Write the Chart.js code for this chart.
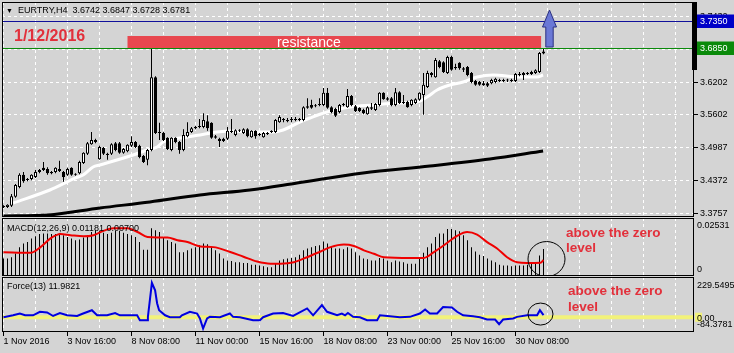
<!DOCTYPE html>
<html><head><meta charset="utf-8">
<script src="https://cdn.jsdelivr.net/npm/chart.js@4/dist/chart.umd.min.js"></script>
<style>
html,body{margin:0;padding:0;background:#d4d4d4;}
#wrap{position:relative;width:734px;height:353px;overflow:hidden;background:#d4d4d4;font-family:"Liberation Sans",Arial,sans-serif;color:#000;}
canvas{position:absolute;left:0;}
.t{position:absolute;white-space:pre;line-height:1;}
.note{position:absolute;white-space:nowrap;font-weight:bold;font-size:13.5px;color:#e2303b;}
</style></head><body>
<div id="wrap">
<canvas id="cMain" width="734" height="218" style="top:0px"></canvas>
<canvas id="cMacd" width="734" height="58" style="top:218px"></canvas>
<canvas id="cForce" width="734" height="76" style="top:277px"></canvas>
<div class="t" style="left:6px;top:7px;font-size:7px;">▼</div>
<div class="t" style="left:18px;top:6px;font-size:9px;">EURTRY,H4  3.6742 3.6847 3.6728 3.6781</div>
<div class="t" style="left:14px;top:28px;font-size:16px;font-weight:bold;color:#e2303b;">1/12/2016</div>
<div class="t" style="left:277px;top:35px;font-size:14px;color:#ffffff;">resistance</div>
<div class="t" style="left:7px;top:224px;font-size:9px;">MACD(12,26,9) 0.01181 0.00700</div>
<div class="t" style="left:7px;top:282px;font-size:9px;">Force(13) 11.9821</div>
<div class="note" style="left:566px;top:225px;line-height:15px;">above the zero<br>level</div>
<div class="note" style="left:568px;top:283px;line-height:16px;">above the zero<br>level</div>
</div>
<script>
// ---------------- data ----------------
const openPrices = [3.389,3.388,3.390,3.407,3.425,3.448,3.438,3.440,3.444,3.453,3.461,3.459,3.453,3.453,3.459,3.453,3.448,3.461,3.449,3.451,
3.470,3.487,3.505,3.513,3.477,3.498,3.487,3.487,3.507,3.507,3.489,3.492,3.502,3.509,3.502,3.483,3.476,3.494,3.630,3.528,
3.526,3.517,3.494,3.517,3.509,3.494,3.520,3.528,3.535,3.537,3.537,3.548,3.545,3.517,3.515,3.515,3.515,3.530,3.522,3.530,
3.526,3.533,3.518,3.530,3.524,3.518,3.526,3.528,3.528,3.546,3.550,3.550,3.552,3.552,3.550,3.550,3.576,3.578,3.576,3.580,
3.578,3.601,3.574,3.571,3.565,3.578,3.574,3.595,3.576,3.573,3.569,3.561,3.574,3.569,3.578,3.601,3.591,3.591,3.578,3.602,
3.584,3.584,3.578,3.582,3.588,3.597,3.612,3.634,3.630,3.660,3.658,3.638,3.668,3.649,3.657,3.647,3.649,3.638,3.623,3.621,
3.619,3.619,3.619,3.621,3.623,3.625,3.625,3.623,3.623,3.636,3.638,3.636,3.636,3.638,3.640,3.6742];
const highPrices = [3.391,3.393,3.412,3.431,3.451,3.453,3.442,3.449,3.457,3.459,3.472,3.462,3.455,3.462,3.474,3.455,3.461,3.462,3.451,3.474,
3.490,3.509,3.528,3.515,3.502,3.500,3.489,3.507,3.509,3.509,3.498,3.505,3.520,3.511,3.504,3.485,3.496,3.685,3.632,3.545,
3.528,3.518,3.518,3.518,3.511,3.533,3.546,3.537,3.539,3.552,3.563,3.559,3.546,3.522,3.517,3.517,3.537,3.552,3.533,3.533,
3.535,3.535,3.531,3.531,3.526,3.528,3.528,3.531,3.552,3.559,3.554,3.554,3.556,3.556,3.554,3.576,3.591,3.588,3.580,3.591,
3.610,3.610,3.576,3.573,3.580,3.582,3.608,3.597,3.578,3.574,3.571,3.576,3.582,3.582,3.602,3.602,3.593,3.593,3.610,3.604,
3.597,3.586,3.589,3.591,3.602,3.638,3.642,3.640,3.666,3.662,3.660,3.670,3.670,3.655,3.658,3.649,3.651,3.640,3.625,3.623,
3.623,3.621,3.627,3.629,3.627,3.627,3.627,3.627,3.638,3.640,3.640,3.640,3.642,3.645,3.677,3.6847];
const lowPrices = [3.386,3.386,3.388,3.405,3.423,3.433,3.436,3.438,3.442,3.451,3.455,3.448,3.449,3.451,3.453,3.435,3.446,3.446,3.446,3.449,
3.468,3.485,3.504,3.507,3.476,3.485,3.476,3.485,3.492,3.487,3.487,3.490,3.500,3.498,3.479,3.470,3.466,3.492,3.524,3.513,
3.511,3.494,3.492,3.507,3.487,3.492,3.518,3.526,3.533,3.535,3.535,3.530,3.515,3.515,3.500,3.509,3.513,3.526,3.520,3.528,
3.524,3.518,3.517,3.515,3.520,3.517,3.522,3.526,3.526,3.545,3.546,3.546,3.546,3.548,3.548,3.548,3.571,3.571,3.574,3.576,
3.576,3.571,3.563,3.556,3.563,3.576,3.573,3.576,3.565,3.565,3.561,3.560,3.569,3.567,3.576,3.588,3.586,3.576,3.576,3.580,
3.580,3.573,3.576,3.580,3.586,3.560,3.610,3.630,3.629,3.647,3.638,3.636,3.642,3.644,3.644,3.640,3.632,3.619,3.614,3.614,
3.614,3.612,3.617,3.619,3.621,3.621,3.621,3.621,3.621,3.632,3.625,3.634,3.634,3.636,3.638,3.6728];
const closePrices = [3.388,3.392,3.408,3.429,3.448,3.436,3.440,3.448,3.453,3.457,3.457,3.451,3.451,3.461,3.455,3.444,3.459,3.448,3.448,3.472,
3.489,3.507,3.513,3.509,3.500,3.487,3.485,3.505,3.494,3.489,3.496,3.504,3.509,3.500,3.481,3.472,3.494,3.630,3.526,3.526,
3.513,3.496,3.517,3.509,3.494,3.522,3.528,3.535,3.537,3.538,3.550,3.535,3.517,3.520,3.511,3.511,3.530,3.528,3.531,3.531,
3.533,3.520,3.530,3.520,3.522,3.526,3.524,3.530,3.550,3.556,3.552,3.548,3.550,3.550,3.552,3.574,3.573,3.573,3.577,3.578,
3.601,3.573,3.565,3.558,3.578,3.579,3.595,3.578,3.567,3.567,3.563,3.574,3.571,3.580,3.601,3.589,3.588,3.578,3.602,3.582,
3.582,3.574,3.588,3.589,3.601,3.616,3.638,3.638,3.662,3.649,3.640,3.668,3.644,3.647,3.647,3.644,3.634,3.621,3.616,3.616,
3.615,3.614,3.625,3.627,3.624,3.623,3.624,3.625,3.636,3.634,3.634,3.638,3.640,3.643,3.675,3.6781];

// white moving average (bar index, price)
const fastMaBars   = [2.4,11.6,17.9,19.9,22.4,24.1,32.4,35.9,38.4,39.9,45.9,49.1,53.4,57.4,61.6,67.4,69.9,74.1,76.6,80.9,86.6,92.4,98.4,103.4,105.9,108.4,111.6,114.9,118.4,122.4,129.1,133.4,134.9];
const fastMaValues = [3.3953,3.4196,3.4419,3.4475,3.4625,3.4662,3.4849,3.4942,3.4998,3.5091,3.5184,3.5222,3.5278,3.5296,3.5278,3.5278,3.5315,3.5464,3.5539,3.5651,3.5744,3.5782,3.5819,3.5838,3.5931,3.6062,3.6155,3.6211,3.6304,3.6341,3.6304,3.6304,3.6341];
// black moving average
const slowMaBars   = [0,11.1,24.1,36.6,49.1,61.6,73.4,89.9,106.6,121.6,134.9];
const slowMaValues = [3.3710,3.3729,3.3860,3.3972,3.4102,3.4196,3.4326,3.4513,3.4643,3.4774,3.4923];

// MACD histogram (one per bar) and signal line
const macdHist = [0.0076,0.0076,0.0082,0.0098,0.0126,0.0142,0.0148,0.0164,0.0173,0.0183,0.0186,0.0186,0.0183,0.0183,0.0186,0.0178,0.0170,0.0164,0.0156,0.0159,
0.0168,0.0178,0.0192,0.0200,0.0197,0.0189,0.0183,0.0189,0.0197,0.0197,0.0189,0.0183,0.0178,0.0170,0.0148,0.0115,0.0115,0.0208,0.0200,0.0192,
0.0170,0.0156,0.0148,0.0142,0.0104,0.0104,0.0112,0.0120,0.0126,0.0134,0.0142,0.0139,0.0126,0.0112,0.0098,0.0076,0.0068,0.0065,0.0060,0.0060,
0.0057,0.0057,0.0049,0.0049,0.0046,0.0043,0.0038,0.0038,0.0054,0.0068,0.0073,0.0076,0.0079,0.0082,0.0093,0.0112,0.0120,0.0126,0.0131,0.0134,
0.0151,0.0142,0.0131,0.0120,0.0120,0.0117,0.0126,0.0120,0.0104,0.0090,0.0076,0.0073,0.0068,0.0068,0.0079,0.0076,0.0068,0.0060,0.0068,0.0063,
0.0060,0.0054,0.0054,0.0054,0.0076,0.0102,0.0126,0.0142,0.0170,0.0186,0.0186,0.0205,0.0205,0.0200,0.0195,0.0178,0.0156,0.0126,0.0107,0.0093,
0.0087,0.0076,0.0068,0.0060,0.0049,0.0046,0.0046,0.0043,0.0046,0.0046,0.0046,0.0049,0.0054,0.0060,0.0090,0.01181];
const signalBars   = [0,6.75,9.25,11.75,14.25,16.75,20,22.5,25,27.5,31,33.5,36,38.5,41,43.5,46,49.25,52.5,56.5,60,63.4,66.75,69.25,72.6,75.9,79.25,81.75,85.1,87.6,90.1,92.6,95.1,101.75,105.1,107.6,110.1,113.4,115.9,118.4,120.9,123.4,125.9,128.4,130.9,134.25,135];
const signalValues = [0.0104,0.0101,0.0126,0.0164,0.0183,0.0178,0.0173,0.0178,0.0197,0.0208,0.0208,0.0192,0.0170,0.0168,0.0168,0.0156,0.0148,0.0129,0.0126,0.0106,0.0084,0.0063,0.0054,0.0054,0.0060,0.0082,0.0107,0.0126,0.0137,0.0131,0.0112,0.0097,0.0082,0.0079,0.0079,0.0104,0.0134,0.0175,0.0192,0.0181,0.0148,0.0120,0.0082,0.0060,0.0057,0.0058,0.0070];

// Force index
const forceBars   = [0,2.4,4.1,5.4,7.4,9.1,10.9,12.4,14.1,15.9,18.4,19.9,22.1,23.4,25.9,27.9,29.1,33.4,34.1,35.9,36.1,37.1,37.9,38.4,38.9,40.4,41.6,44.1,44.6,46.6,48.4,49.1,49.9,50.9,51.6,54.1,56.6,57.4,59.1,62.4,64.1,64.9,67.4,69.9,72.4,75.9,77.4,79.6,80.9,83.4,84.6,85.4,86.1,87.4,89.1,90.9,93.4,94.1,96.6,99.1,101.6,104.1,105.4,106.6,108.4,109.9,112.1,113.4,114.9,117.4,119.1,120.9,122.9,123.9,124.9,127.4,128.4,130.9,133.4,134.1,135];
const forceValues = [0,11,21,11,11,31,27,7,24,11,7,21,40,11,11,24,11,11,-17,-17,2,196,154,80,40,11,0,0,11,31,21,-7,-65,-7,2,0,21,2,0,-17,-17,0,21,24,7,50,11,69,31,11,21,11,24,2,0,-17,-17,11,6,0,2,21,44,21,21,58,56,31,11,6,0,-13,-13,-40,-13,-7,2,11,11,40,11.9821];

// axis ticks and labels
const gridBars = [0,8,16,24,32,40,48,56,64,72,80,88,96,104,112,120,128,136,144,152,160,168];
const labelBars = [0,16,32,48,64,80,96,112,128];
const timeLabels = ['1 Nov 2016','3 Nov 16:00','8 Nov 08:00','11 Nov 00:00','15 Nov 16:00','18 Nov 08:00','23 Nov 00:00','25 Nov 16:00','30 Nov 08:00'];
const priceTickValues = [3.3757,3.4372,3.4987,3.5602,3.6202,3.6817,3.7432];
const priceTickLabels = ['3.3757','3.4372','3.4987','3.5602','3.6202','3.6817','3.7432'];
const macdScaleValues = [0.02531, 0];
const macdScaleLabels = ['0.02531', '0'];
const forceScaleValues = [229.5495, 0, -84.3781];
const forceScaleLabels = ['229.5495', '0.00', '-84.3781'];

// annotations (data units)
const levelValues = [3.7350, 3.6850];
const levelLabels = ['3.7350', '3.6850'];
const resistanceBars = [31, 134.4];
const resistancePrices = [3.6850, 3.7069];
const arrowBar = 136.5;
const arrowPrices = [3.6864, 3.7237, 3.7554]; // base, neck, tip
const rangeMarkerLow = 3.6435;
const macdCircle = [135.75, 0.0074];
const forceCircle = [134.25, 18];

// ---------------- drawing ----------------
const FONT = '9px "Liberation Sans", Arial, sans-serif';
const GRID = '#ffffff';
Chart.defaults.font.family = '"Liberation Sans", Arial, sans-serif';

function border(chart) {
  const {ctx, chartArea: a} = chart;
  ctx.save();
  ctx.strokeStyle = '#000'; ctx.lineWidth = 1;
  ctx.strokeRect(a.left + 0.5, a.top + 0.5, a.right - a.left - 1, a.bottom - a.top - 1);
  ctx.restore();
}
function hline(ctx, x0, x1, y) { ctx.beginPath(); ctx.moveTo(x0, y); ctx.lineTo(x1, y); ctx.stroke(); }

function xAxis(showLabels) {
  return {
    type: 'linear', min: -0.375, max: 172.625, offset: false,
    afterBuildTicks: s => { s.ticks = gridBars.map(v => ({value: v})); },
    afterFit: s => { s.height = showLabels ? 21 : 0; s.paddingLeft = 0; s.paddingRight = 0; },
    grid: { display: true, drawOnChartArea: true, drawTicks: showLabels, tickLength: 4, offset: false,
      color: GRID, lineWidth: 1,
      tickColor: c => (c.tick && labelBars.includes(c.tick.value)) ? '#000' : 'rgba(0,0,0,0)' },
    border: { display: false, dash: [3, 3] },
    ticks: { display: showLabels, align: 'start', autoSkip: false, maxRotation: 0, minRotation: 0, padding: 0,
      color: '#000', font: {size: 9},
      callback: v => { const i = labelBars.indexOf(v); return i >= 0 ? timeLabels[i] : ''; } }
  };
}
const common = { responsive: false, animation: false, devicePixelRatio: 1, events: [],
  plugins: { legend: {display: false}, tooltip: {enabled: false} } };

const bars = openPrices.map((_, i) => i);
const pts = (xs, ys) => xs.map((x, i) => ({x, y: ys[i]}));

const mainDecor = {
  id: 'mainDecor',
  afterDatasetsDraw(chart) {
    const {ctx, chartArea: a, scales: {x, y}} = chart;
    ctx.save();
    ctx.lineWidth = 1;
    const yb = Math.round(y.getPixelForValue(levelValues[0])) + 0.5;
    const yg = Math.round(y.getPixelForValue(levelValues[1])) + 0.5;
    ctx.strokeStyle = '#10109a'; hline(ctx, a.left, a.right, yb);
    ctx.strokeStyle = '#0a8a0a'; hline(ctx, a.left, a.right, yg);
    // resistance box
    const x0 = x.getPixelForValue(resistanceBars[0]), x1 = x.getPixelForValue(resistanceBars[1]);
    const yt = Math.round(y.getPixelForValue(resistancePrices[1]));
    ctx.fillStyle = '#e8474f';
    ctx.fillRect(x0, yt, x1 - x0, yg - 0.5 - yt);
    // arrow
    const xa = x.getPixelForValue(arrowBar);
    const yBase = y.getPixelForValue(arrowPrices[0]), yNeck = y.getPixelForValue(arrowPrices[1]), yTip = y.getPixelForValue(arrowPrices[2]);
    ctx.beginPath();
    ctx.moveTo(xa, yTip); ctx.lineTo(xa + 7, yNeck); ctx.lineTo(xa + 3.7, yNeck); ctx.lineTo(xa + 3.7, yBase);
    ctx.lineTo(xa - 3.7, yBase); ctx.lineTo(xa - 3.7, yNeck); ctx.lineTo(xa - 7, yNeck); ctx.closePath();
    ctx.fillStyle = '#6a78d6'; ctx.fill();
    ctx.strokeStyle = '#2a3080'; ctx.stroke();
    ctx.restore();
  },
  afterDraw(chart) {
    border(chart);
    const {ctx, chartArea: a, scales: {y}} = chart;
    ctx.save();
    // thick range marker on the price axis
    const ym = y.getPixelForValue(rangeMarkerLow);
    ctx.fillStyle = '#000';
    ctx.fillRect(a.right - 2, a.top, 5, ym - a.top);
    // level labels
    const cols = ['#0000c8', '#0a8a0a'];
    ctx.font = FONT; ctx.textBaseline = 'middle'; ctx.textAlign = 'left';
    levelValues.forEach((v, i) => {
      const yy = y.getPixelForValue(v);
      ctx.fillStyle = cols[i];
      ctx.fillRect(a.right + 3, Math.round(yy) - 6.5, 40, 13.5);
      ctx.fillStyle = '#fff';
      ctx.fillText(levelLabels[i], a.right + 6, yy + 0.5);
    });
    ctx.restore();
  }
};

new Chart(document.getElementById('cMain'), {
  type: 'bar',
  data: { datasets: [
    { type: 'line', data: pts(slowMaBars, slowMaValues), borderColor: '#000', borderWidth: 3, pointRadius: 0, cubicInterpolationMode: 'monotone', order: 4 },
    { type: 'line', data: pts(fastMaBars, fastMaValues), borderColor: '#fff', borderWidth: 3, pointRadius: 0, cubicInterpolationMode: 'monotone', order: 3 },
    { data: bars.map(i => ({x: i, y: [lowPrices[i], highPrices[i]]})), backgroundColor: '#000', borderWidth: 0,
      barThickness: 1, grouped: false, inflateAmount: 0, order: 2 },
    { data: bars.map(i => ({x: i, y: [openPrices[i], closePrices[i]]})),
      backgroundColor: bars.map(i => closePrices[i] > openPrices[i] ? '#ffffff' : '#000000'),
      borderColor: '#000', borderWidth: 1, borderSkipped: false, barThickness: 3, minBarLength: 1,
      grouped: false, inflateAmount: 0, order: 1 }
  ]},
  options: Object.assign({}, common, {
    layout: { padding: {left: 2, top: 2, right: 0, bottom: 1} },
    scales: {
      x: xAxis(false),
      y: { type: 'linear', position: 'right', min: 3.3692, max: 3.7704,
        afterBuildTicks: s => { s.ticks = priceTickValues.map(v => ({value: v})); },
        afterFit: s => { s.width = 40; s.paddingTop = 0; s.paddingBottom = 0; },
        grid: { color: GRID, drawTicks: true, tickLength: 4, tickColor: '#000', lineWidth: 1 },
        border: { display: false, dash: [3, 3] },
        ticks: { padding: 2, color: '#000', font: {size: 9}, callback: (v, i) => priceTickLabels[i] } }
    }
  }),
  plugins: [mainDecor]
});

const macdDecor = {
  id: 'macdDecor',
  afterDraw(chart) {
    border(chart);
    const {ctx, chartArea: a, scales: {x, y}} = chart;
    ctx.save();
    ctx.strokeStyle = '#000'; ctx.lineWidth = 1;
    ctx.beginPath();
    ctx.ellipse(x.getPixelForValue(macdCircle[0]), y.getPixelForValue(macdCircle[1]), 18.5, 17.5, 0, 0, Math.PI * 2);
    ctx.stroke();
    ctx.font = FONT; ctx.fillStyle = '#000'; ctx.textAlign = 'left'; ctx.textBaseline = 'middle';
    ctx.fillText(macdScaleLabels[0], a.right + 3, y.getPixelForValue(macdScaleValues[0]) + 8);
    ctx.fillText(macdScaleLabels[1], a.right + 3, y.getPixelForValue(macdScaleValues[1]) - 6);
    ctx.restore();
  }
};
new Chart(document.getElementById('cMacd'), {
  type: 'bar',
  data: { datasets: [
    { type: 'line', data: pts(signalBars, signalValues), borderColor: '#f00000', borderWidth: 2, pointRadius: 0, cubicInterpolationMode: 'monotone', order: 1 },
    { data: bars.map(i => ({x: i, y: macdHist[i]})), backgroundColor: '#000', borderWidth: 0, barThickness: 1, grouped: false, inflateAmount: 0, order: 2 }
  ]},
  options: Object.assign({}, common, {
    layout: { padding: {left: 2, top: 0, right: 40, bottom: 0} },
    scales: { x: xAxis(false), y: { type: 'linear', display: false, min: 0, max: 0.02531 } }
  }),
  plugins: [macdDecor]
});

const forceDecor = {
  id: 'forceDecor',
  beforeDatasetsDraw(chart) {
    const {ctx, chartArea: a, scales: {y}} = chart;
    ctx.save();
    ctx.strokeStyle = '#f2f27a'; ctx.lineWidth = 4;
    hline(ctx, a.left, a.right, y.getPixelForValue(0));
    ctx.restore();
  },
  afterDraw(chart) {
    border(chart);
    const {ctx, chartArea: a, scales: {x, y}} = chart;
    ctx.save();
    ctx.strokeStyle = '#000'; ctx.lineWidth = 1;
    ctx.beginPath();
    ctx.ellipse(x.getPixelForValue(forceCircle[0]), y.getPixelForValue(forceCircle[1]), 12.5, 11, 0, 0, Math.PI * 2);
    ctx.stroke();
    const y0 = y.getPixelForValue(forceScaleValues[1]);
    ctx.fillStyle = '#f2f27a';
    ctx.fillRect(a.right + 1, y0 - 4.5, 7, 9);
    ctx.font = FONT; ctx.fillStyle = '#000'; ctx.textAlign = 'left'; ctx.textBaseline = 'middle';
    ctx.fillText(forceScaleLabels[0], a.right + 3, y.getPixelForValue(forceScaleValues[0]) + 8.5);
    ctx.fillText(forceScaleLabels[1], a.right + 3, y0 + 1);
    ctx.fillText(forceScaleLabels[2], a.right + 3, y.getPixelForValue(forceScaleValues[2]) - 7);
    ctx.restore();
  }
};
new Chart(document.getElementById('cForce'), {
  type: 'line',
  data: { datasets: [
    { data: pts(forceBars, forceValues), borderColor: '#0000e0', borderWidth: 2, pointRadius: 0, tension: 0 }
  ]},
  options: Object.assign({}, common, {
    layout: { padding: {left: 2, top: 0, right: 40, bottom: 0} },
    scales: { x: xAxis(true), y: { type: 'linear', display: false, min: -84.3781, max: 229.5495 } }
  }),
  plugins: [forceDecor]
});
</script>
</body></html>
